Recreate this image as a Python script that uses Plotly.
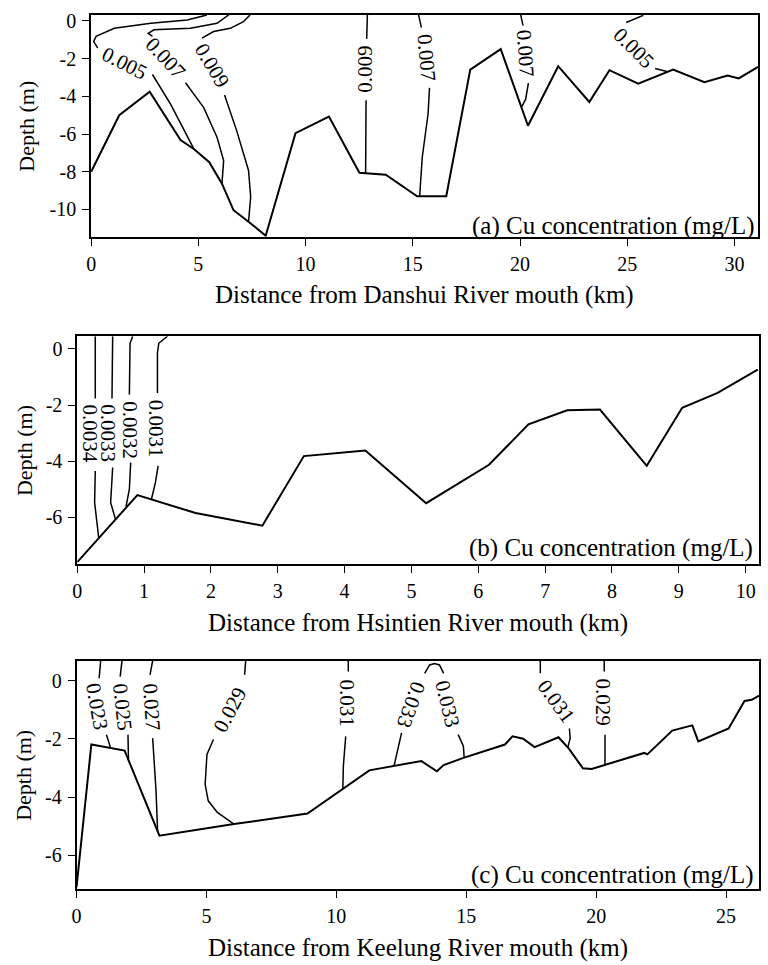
import plotly.graph_objects as go

W, H = 768, 965
FONT = "Liberation Serif, Times New Roman, serif"

# ---------------- (a) Danshui River ----------------
ds_km = [0, 1.31, 2.73, 4.17, 4.79, 5.51, 6.10, 6.64, 7.34, 8.14, 9.53, 11.09, 12.51, 13.74,
         15.20, 16.56, 17.68, 19.10, 20.37, 21.78, 23.23, 24.17, 25.51, 27.14, 28.60, 29.68,
         30.20, 31.10]
ds_bed = [-8.0, -5.0, -3.75, -6.32, -6.79, -7.49, -8.63, -10.04, -10.65, -11.39, -5.95, -5.07,
          -8.05, -8.16, -9.30, -9.30, -2.58, -1.49, -5.56, -2.40, -4.30, -2.61, -3.33, -2.58,
          -3.25, -2.89, -3.05, -2.44]

ds_005w_x = [5.40, 4.48, 2.78, 1.08, 0.23, 0.12, 0.31, None, 2.86, 3.71, 4.79]
ds_005w_d = [0.32, 0.05, -0.12, -0.39, -0.82, -1.09, -1.44, None, -2.84, -4.42, -6.79]
ds_007w_x = [6.41, 5.87, 4.63, 2.93, 2.66, 2.86, None, 4.40, 5.25, 5.87, 6.18, 6.10]
ds_007w_d = [0.32, -0.12, -0.39, -0.47, -0.65, -0.82, None, -3.28, -4.60, -6.17, -7.40, -8.63]
ds_009w_x = [7.41, 7.10, 6.49, 5.71, 5.17, None, 6.22, 6.79, 7.34, 7.44, 7.34]
ds_009w_d = [0.32, -0.04, -0.39, -0.56, -0.91, None, -3.93, -5.83, -7.93, -9.33, -10.65]
ds_009m_x = [12.88, 12.85, None, 12.82, 12.80]
ds_009m_d = [0.32, -0.95, None, -4.20, -8.08]
ds_007m_x = [15.27, 15.40, None, 15.78, 15.71, 15.44, 15.32]
ds_007m_d = [0.32, -0.35, None, -3.55, -4.95, -7.23, -9.30]
ds_007e_x = [20.03, 20.14, None, 20.39, 20.26, 20.08]
ds_007e_d = [0.32, -0.25, None, -3.30, -4.16, -4.55]
ds_005e_x = [25.75, 24.95, None, 26.30, 26.85]
ds_005e_d = [0.30, -0.08, None, -2.52, -2.68]

ds_lab_level = [0.005, 0.007, 0.009, 0.009, 0.007, 0.007, 0.005]
ds_lab_km = [1.54, 3.47, 5.64, 12.76, 15.65, 20.25, 25.30]
ds_lab_d = [-2.23, -1.96, -2.32, -2.55, -1.95, -1.70, -1.44]
ds_lab_rot = [27, 47, 59, -90, 85, 86, 45]

# ---------------- (b) Hsintien River ----------------
hs_km = [0, 0.90, 1.77, 2.77, 3.39, 4.31, 5.22, 6.16, 6.75, 7.33, 7.82, 8.52, 9.05, 9.58, 10.18]
hs_bed = [-7.6, -5.21, -5.85, -6.30, -3.82, -3.62, -5.50, -4.13, -2.69, -2.19, -2.16, -4.17,
          -2.10, -1.57, -0.74]

hs_0034_x = [0.27, 0.27, None, 0.27, 0.26, 0.32]
hs_0034_d = [0.45, -1.77, None, -4.35, -5.47, -6.71]
hs_0033_x = [0.53, 0.52, None, 0.53, 0.50, 0.57]
hs_0033_d = [0.45, -1.77, None, -4.23, -5.47, -6.06]
hs_0032_x = [0.83, 0.79, 0.78, None, 0.80, 0.78, 0.73]
hs_0032_d = [0.45, 0.20, -1.63, None, -4.05, -5.00, -5.62]
hs_0031_x = [1.35, 1.22, 1.20, 1.20, None, 1.21, 1.17, 1.11]
hs_0031_d = [0.45, 0.20, -0.15, -1.57, None, -4.17, -4.76, -5.36]

hs_lab_level = [0.0034, 0.0033, 0.0032, 0.0031]
hs_lab_km = [0.19, 0.47, 0.79, 1.18]
hs_lab_d = [-3.01, -2.99, -2.90, -2.85]
hs_lab_rot = [90, 90, 90, 90]

# ---------------- (c) Keelung River ----------------
kl_km = [0, 0.57, 1.85, 3.19, 6.06, 8.89, 11.27, 11.96, 13.27, 13.87, 14.13, 14.89, 16.49,
         16.78, 17.19, 17.63, 18.55, 18.95, 19.49, 19.83, 20.31, 21.85, 21.97, 22.17, 22.93,
         23.70, 23.93, 25.10, 25.71, 25.99, 26.27]
kl_bed = [-7.1, -2.19, -2.40, -5.33, -4.93, -4.57, -3.08, -2.97, -2.76, -3.11, -2.90, -2.65,
          -2.19, -1.91, -1.99, -2.28, -1.94, -2.33, -3.01, -3.03, -2.90, -2.48, -2.53, -2.36,
          -1.71, -1.53, -2.08, -1.64, -0.69, -0.65, -0.51]

kl_023_x = [0.93, 0.87, None, 1.15, 1.31]
kl_023_d = [0.70, 0.09, None, -1.85, -2.31]
kl_025_x = [1.75, 1.68, None, 1.98, 2.00]
kl_025_d = [0.70, 0.15, None, -1.85, -2.72]
kl_027_x = [2.93, 2.83, None, 2.93, 3.06, 3.12]
kl_027_d = [0.70, 0.21, None, -1.97, -3.79, -5.17]
kl_029w_x = [6.51, 6.47, None, 5.27, 5.02, 4.95, 5.07, 5.42, 6.06]
kl_029w_d = [0.70, 0.21, None, -2.02, -2.53, -3.56, -4.13, -4.53, -4.93]
kl_031w_x = [10.46, 10.46, None, 10.36, 10.27, 10.25]
kl_031w_d = [0.70, 0.32, None, -1.91, -2.93, -3.72]
kl_033_x = [12.22, 12.51, None, 13.40, 13.59, 13.78, 13.97, 14.13, None, 14.69, 14.89, 14.92]
kl_033_d = [-2.93, -1.79, None, 0.26, 0.55, 0.60, 0.55, 0.26, None, -1.85, -2.25, -2.65]
kl_031e_x = [17.85, 17.85, None, 18.97, 19.00, 18.91]
kl_031e_d = [0.70, 0.26, None, -1.64, -1.97, -2.29]
kl_029e_x = [20.31, 20.31, None, 20.34, 20.34]
kl_029e_d = [0.70, 0.32, None, -1.85, -2.90]

kl_lab_level = [0.023, 0.025, 0.027, 0.029, 0.031, 0.033, 0.033, 0.031, 0.029]
kl_lab_km = [0.77, 1.75, 2.87, 5.89, 10.40, 12.89, 14.26, 18.46, 20.25]
kl_lab_d = [-0.88, -0.88, -0.88, -0.99, -0.77, -0.82, -0.77, -0.68, -0.73]
kl_lab_rot = [80, 84, 86, -62, 90, 110, 76, 54, 90]

panels = [
    dict(km=ds_km, bed=ds_bed,
         lines=[(ds_005w_x, ds_005w_d), (ds_007w_x, ds_007w_d), (ds_009w_x, ds_009w_d),
                (ds_009m_x, ds_009m_d), (ds_007m_x, ds_007m_d), (ds_007e_x, ds_007e_d),
                (ds_005e_x, ds_005e_d)],
         labels=(ds_lab_level, ds_lab_km, ds_lab_d, ds_lab_rot),
         xbox=(86.7, 758), ybox=(10, 233), xr=[0, 31.1], yr=[-11.45, 0.32],
         xticks=[0, 5, 10, 15, 20, 25, 30], yticks=[0, -2, -4, -6, -8, -10],
         xtitle="Distance from Danshui River mouth (km)", xtitle_y=292, ytitle_x=22,
         tag="(a) Cu concentration (mg/L)", tag_y=222, tag_x=757),
    dict(km=hs_km, bed=hs_bed,
         lines=[(hs_0034_x, hs_0034_d), (hs_0033_x, hs_0033_d), (hs_0032_x, hs_0032_d),
                (hs_0031_x, hs_0031_d)],
         labels=(hs_lab_level, hs_lab_km, hs_lab_d, hs_lab_rot),
         xbox=(72.7, 759), ybox=(333, 562), xr=[0, 10.2], yr=[-7.67, 0.45],
         xticks=list(range(0, 11)), yticks=[0, -2, -4, -6],
         xtitle="Distance from Hsintien River mouth (km)", xtitle_y=621, ytitle_x=19,
         tag="(b) Cu concentration (mg/L)", tag_y=546, tag_x=755),
    dict(km=kl_km, bed=kl_bed,
         lines=[(kl_023_x, kl_023_d), (kl_025_x, kl_025_d), (kl_027_x, kl_027_d),
                (kl_029w_x, kl_029w_d), (kl_031w_x, kl_031w_d), (kl_033_x, kl_033_d),
                (kl_031e_x, kl_031e_d), (kl_029e_x, kl_029e_d)],
         labels=(kl_lab_level, kl_lab_km, kl_lab_d, kl_lab_rot),
         xbox=(72.0, 759), ybox=(659, 889), xr=[0, 26.27], yr=[-7.18, 0.70],
         xticks=[0, 5, 10, 15, 20, 25], yticks=[0, -2, -4, -6],
         xtitle="Distance from Keelung River mouth (km)", xtitle_y=948, ytitle_x=19,
         tag="(c) Cu concentration (mg/L)", tag_y=875, tag_x=756),
]


def fx(p):
    return p / W


def fy(p):
    return 1 - p / H


fig = go.Figure()
annotations = []
axis_common = dict(showline=True, linecolor="black", linewidth=1.7, mirror=True,
                   ticks="outside", ticklen=7, tickwidth=1.4, tickcolor="black",
                   showgrid=False, zeroline=False,
                   tickfont=dict(family=FONT, size=20, color="black"))

for i, p in enumerate(panels, start=1):
    sfx = "" if i == 1 else str(i)
    xa, ya = "x" + sfx, "y" + sfx

    fig.add_trace(go.Scatter(x=p["km"], y=p["bed"], mode="lines",
                             line=dict(color="black", width=2),
                             xaxis=xa, yaxis=ya, showlegend=False, hoverinfo="skip"))
    for lx, ld in p["lines"]:
        fig.add_trace(go.Scatter(x=lx, y=ld, mode="lines", connectgaps=False,
                                 line=dict(color="black", width=1.5),
                                 xaxis=xa, yaxis=ya, showlegend=False, hoverinfo="skip"))

    lev, lkm, ld, lrot = p["labels"]
    for v, xk, dk, rot in zip(lev, lkm, ld, lrot):
        annotations.append(dict(x=xk, y=dk, xref=xa, yref=ya, text=f"{v:g}",
                                showarrow=False, textangle=rot,
                                xanchor="center", yanchor="middle",
                                font=dict(family=FONT, size=21, color="black")))

    x0, x1 = p["xbox"]
    y0, y1 = p["ybox"]
    fig.update_layout(**{
        "xaxis" + sfx: dict(axis_common, domain=[fx(x0), fx(x1)], range=p["xr"],
                            anchor=ya, tickmode="array", tickvals=p["xticks"],
                            ticktext=[str(t) for t in p["xticks"]], ticklabelstandoff=1),
        "yaxis" + sfx: dict(axis_common, domain=[fy(y1), fy(y0)], range=p["yr"],
                            anchor=xa, tickmode="array", tickvals=p["yticks"],
                            ticktext=[str(t) for t in p["yticks"]], ticklabelstandoff=2),
    })

    annotations.append(dict(x=fx((x0 + x1) / 2), y=fy(p["xtitle_y"]), xref="paper", yref="paper",
                            text=p["xtitle"], showarrow=False, xanchor="center", yanchor="middle",
                            font=dict(family=FONT, size=25, color="black")))
    annotations.append(dict(x=fx(p["ytitle_x"]), y=fy((y0 + y1) / 2), xref="paper", yref="paper",
                            text="Depth (m)", showarrow=False, textangle=-90,
                            xanchor="center", yanchor="middle",
                            font=dict(family=FONT, size=22, color="black")))
    annotations.append(dict(x=fx(p["tag_x"]), y=fy(p["tag_y"]), xref="paper", yref="paper",
                            text=p["tag"], showarrow=False, xanchor="right", yanchor="middle",
                            font=dict(family=FONT, size=25, color="black")))

fig.update_layout(width=W, height=H, margin=dict(l=0, r=0, t=0, b=0),
                  paper_bgcolor="white", plot_bgcolor="white",
                  annotations=annotations, showlegend=False)

fig.write_html("out.html")
